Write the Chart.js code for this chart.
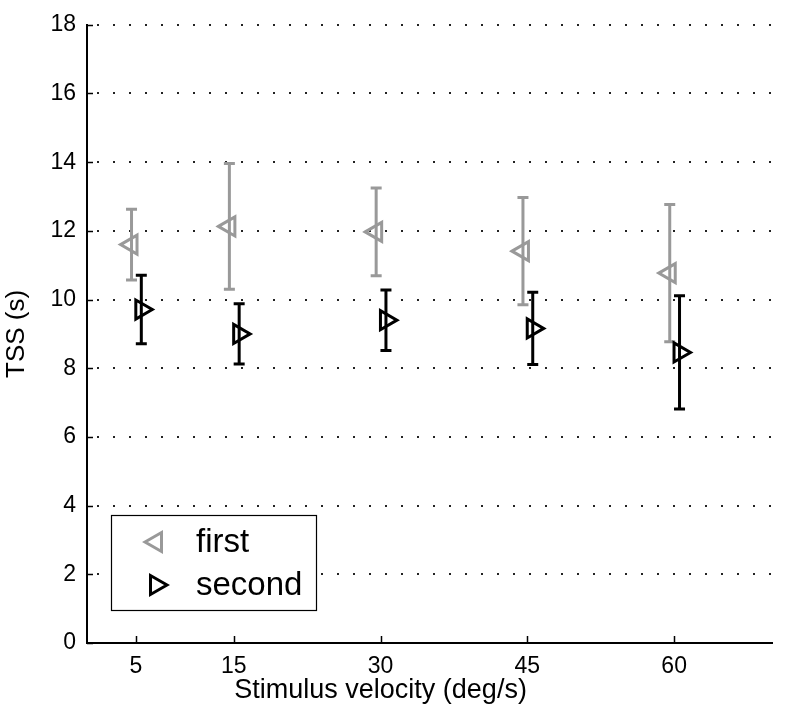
<!DOCTYPE html>
<html><head><meta charset="utf-8">
<script src="https://cdn.jsdelivr.net/npm/chart.js@4.4.1/dist/chart.umd.min.js"></script>
<style>html,body{margin:0;padding:0;background:#fff;}#wrap{position:relative;width:786px;height:718px;}</style>
</head><body><div id="wrap"><canvas id="c" width="786" height="718"></canvas></div>
<script>
// ---- data ----
const velocities = [5, 15, 30, 45, 60];
const xTickLabels = ['5', '15', '30', '45', '60'];
const yTickValues = [0, 2, 4, 6, 8, 10, 12, 14, 16, 18];
const seriesLabels = ['first', 'second'];
const firstX = [4.55, 14.55, 29.55, 44.55, 59.55];
const firstMean = [11.60, 12.13, 11.97, 11.41, 10.77];
const firstErr = [1.03, 1.83, 1.28, 1.56, 2.00];
const secondX = [5.55, 15.55, 30.55, 45.55, 60.55];
const secondMean = [9.71, 9.00, 9.40, 9.16, 8.46];
const secondErr = [1.00, 0.88, 0.88, 1.05, 1.65];
const xTitle = 'Stimulus velocity (deg/s)';
const yTitle = 'TSS (s)';

const FONT = "'Liberation Sans', Arial, Helvetica, sans-serif";
const GRAY = '#999999';
const BLACK = '#000000';

function toPoints(xs, ms, es) {
  return xs.map((x, i) => ({ x: x, y: ms[i], err: es[i] }));
}

function triPath(ctx, x, y, r, rotDeg) {
  let rad = rotDeg * Math.PI / 180;
  const T = 2 * Math.PI / 3;
  ctx.beginPath();
  ctx.moveTo(x + Math.sin(rad) * r, y - Math.cos(rad) * r);
  rad += T; ctx.lineTo(x + Math.sin(rad) * r, y - Math.cos(rad) * r);
  rad += T; ctx.lineTo(x + Math.sin(rad) * r, y - Math.cos(rad) * r);
  ctx.closePath();
}

const errorBarPlugin = {
  id: 'errorBars',
  beforeDatasetsDraw(chart) {
    const ctx = chart.ctx;
    const xs = chart.scales.x, ys = chart.scales.y;
    chart.data.datasets.forEach((ds, di) => {
      if (!chart.isDatasetVisible(di)) return;
      ctx.save();
      ctx.strokeStyle = ds.borderColor;
      ctx.lineWidth = 3;
      ctx.lineCap = 'butt';
      ds.data.forEach(p => {
        const px = xs.getPixelForValue(p.x);
        const yTop = ys.getPixelForValue(p.y + p.err);
        const yBot = ys.getPixelForValue(p.y - p.err);
        ctx.beginPath();
        ctx.moveTo(px, yTop); ctx.lineTo(px, yBot);
        ctx.moveTo(px - 5.5, yTop); ctx.lineTo(px + 5.5, yTop);
        ctx.moveTo(px - 5.5, yBot); ctx.lineTo(px + 5.5, yBot);
        ctx.stroke();
      });
      ctx.restore();
    });
  }
};

const inwardTicksPlugin = {
  id: 'inwardTicks',
  afterDatasetsDraw(chart) {
    const ctx = chart.ctx;
    const xs = chart.scales.x, ys = chart.scales.y;
    const a = chart.chartArea;
    ctx.save();
    ctx.strokeStyle = '#000';
    ctx.lineWidth = 1.5;
    ctx.beginPath();
    yTickValues.forEach(v => {
      const py = Math.round(ys.getPixelForValue(v)) + 0.5;
      ctx.moveTo(a.left, py); ctx.lineTo(a.left + 6, py);
    });
    velocities.forEach(v => {
      const px = Math.round(xs.getPixelForValue(v)) + 0.5;
      ctx.moveTo(px, a.bottom); ctx.lineTo(px, a.bottom - 7);
    });
    ctx.stroke();
    ctx.restore();
  }
};

const xTitlePlugin = {
  id: 'xTitle',
  afterDraw(chart) {
    const ctx = chart.ctx;
    const xs = chart.scales.x;
    ctx.save();
    ctx.fillStyle = '#000';
    ctx.font = '27px ' + FONT;
    ctx.textAlign = 'center';
    ctx.textBaseline = 'middle';
    ctx.fillText(xTitle, xs.getPixelForValue(30), chart.chartArea.bottom + 48);
    ctx.restore();
  }
};

const boxLegendPlugin = {
  id: 'boxLegend',
  afterDraw(chart) {
    const ctx = chart.ctx;
    const bx = 111.5, by = 515.5, bw = 205, bh = 95;
    ctx.save();
    ctx.fillStyle = '#fff';
    ctx.fillRect(bx, by, bw, bh);
    ctx.strokeStyle = '#000';
    ctx.lineWidth = 1.2;
    ctx.strokeRect(bx, by, bw, bh);
    const rows = [542, 585];
    chart.data.datasets.forEach((ds, i) => {
      const cy = rows[i];
      ctx.strokeStyle = ds.borderColor;
      ctx.lineWidth = ds.pointBorderWidth;
      triPath(ctx, 156, cy, ds.pointRadius, ds.pointRotation);
      ctx.stroke();
      ctx.fillStyle = '#000';
      ctx.font = '33px ' + FONT;
      ctx.textBaseline = 'middle';
      ctx.textAlign = 'left';
      ctx.fillText(ds.label, 196, cy + 1);
    });
    ctx.restore();
  }
};

new Chart(document.getElementById('c'), {
  type: 'scatter',
  data: {
    datasets: [
      {
        label: seriesLabels[0],
        data: toPoints(firstX, firstMean, firstErr),
        borderColor: GRAY,
        backgroundColor: 'rgba(0,0,0,0)',
        pointStyle: 'triangle',
        pointRotation: 270,
        pointRadius: 11,
        pointBorderWidth: 3,
        showLine: false
      },
      {
        label: seriesLabels[1],
        data: toPoints(secondX, secondMean, secondErr),
        borderColor: BLACK,
        backgroundColor: 'rgba(0,0,0,0)',
        pointStyle: 'triangle',
        pointRotation: 90,
        pointRadius: 11,
        pointBorderWidth: 3,
        showLine: false
      }
    ]
  },
  options: {
    responsive: false,
    animation: false,
    events: [],
    layout: { padding: { top: 18, right: 4, left: 0, bottom: 0 } },
    plugins: { legend: { display: false }, tooltip: { enabled: false } },
    scales: {
      x: {
        type: 'linear',
        min: 0, max: 70,
        afterBuildTicks(scale) { scale.ticks = velocities.map(v => ({ value: v })); },
        afterFit(scale) { scale.height = 75; },
        grid: { display: false, drawTicks: false },
        border: { display: true, color: '#000', width: 2 },
        ticks: {
          color: '#000', padding: 10, maxRotation: 0, autoSkip: false,
          font: { family: FONT, size: 23 },
          callback(value) { const i = velocities.indexOf(value); return i >= 0 ? xTickLabels[i] : ''; }
        },
        title: { display: false, text: xTitle }
      },
      y: {
        min: 0, max: 18,
        afterBuildTicks(scale) { scale.ticks = yTickValues.map(v => ({ value: v })); },
        afterFit(scale) { scale.width = 87; },
        grid: { display: true, drawTicks: false, color: '#222', lineWidth: 2,
          borderDash: [2, 14], borderDashOffset: 7 },
        border: { display: true, color: '#000', width: 2, dash: [2, 14], dashOffset: 7 },
        ticks: { color: '#000', padding: 11, font: { family: FONT, size: 23 } },
        title: { display: true, text: yTitle, color: '#000',
          font: { family: FONT, size: 26 }, padding: { top: 1, bottom: 0 } }
      }
    }
  },
  plugins: [errorBarPlugin, inwardTicksPlugin, xTitlePlugin, boxLegendPlugin]
});
</script>
</body></html>
